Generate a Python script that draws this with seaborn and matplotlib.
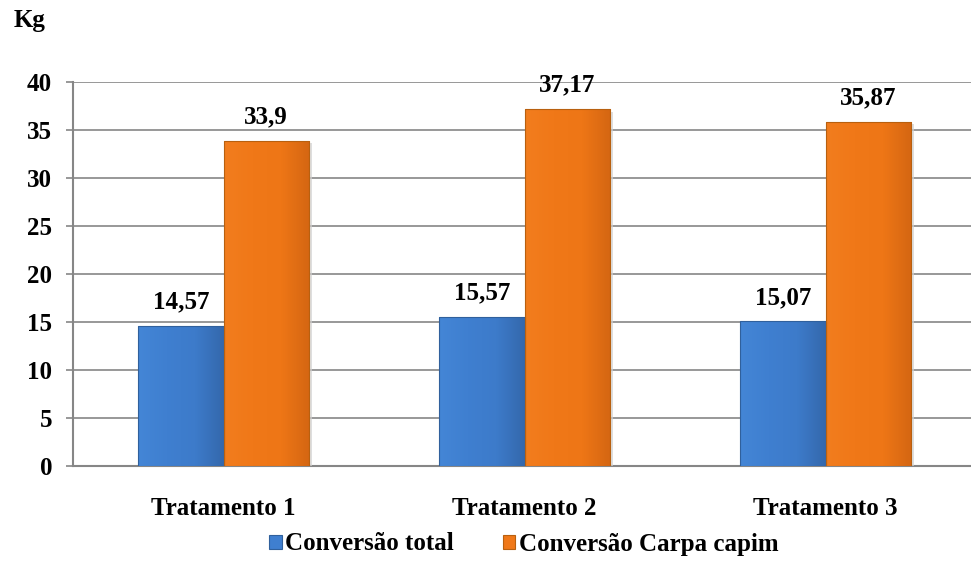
import matplotlib
matplotlib.use("Agg")
import matplotlib.pyplot as plt
import seaborn as sns
import pandas as pd
import numpy as np
from matplotlib.colors import LinearSegmentedColormap
from matplotlib.font_manager import FontProperties
from matplotlib.patches import Patch

categories = ["Tratamento 1", "Tratamento 2", "Tratamento 3"]
series_names = ["Conversão total", "Conversão Carpa capim"]
conv_total = [14.57, 15.57, 15.07]
conv_carpa = [33.9, 37.17, 35.87]
value_labels_total = ["14,57", "15,57", "15,07"]
value_labels_carpa = ["33,9", "37,17", "35,87"]
y_ticks = [0, 5, 10, 15, 20, 25, 30, 35, 40]

df = pd.DataFrame({
    "cat": categories * 2,
    "serie": [series_names[0]] * 3 + [series_names[1]] * 3,
    "val": conv_total + conv_carpa,
})

sns.set_style("white")
FAM = ["Liberation Serif", "DejaVu Serif"]
plt.rcParams["font.family"] = FAM
plt.rcParams["font.weight"] = "bold"
plt.rcParams["text.color"] = "black"
plt.rcParams["xtick.color"] = "black"
plt.rcParams["ytick.color"] = "black"

fig = plt.figure(figsize=(9.71, 5.73), dpi=100)
ax = fig.add_axes([73 / 971, 1 - 466 / 573, 1 - 73 / 971, (466 - 82) / 573])

colors = {"Conversão total": "#3f7fd0", "Conversão Carpa capim": "#f07818"}
sns.barplot(data=df, x="cat", y="val", hue="serie", palette=colors, width=0.566,
            gap=0, ax=ax, legend=False, edgecolor="none", saturation=1, zorder=3)

ax.set_xlim(-0.5, (971 - 73) / 301 - 0.5)
ax.set_ylim(0, 40)
ax.set_yticks(y_ticks)
ax.set_yticklabels([str(t) for t in y_ticks], fontsize=18, fontweight="bold",
                   family=FAM, color="black")
ax.set_xticks(range(3))
ax.set_xticklabels(categories, fontsize=18, fontweight="bold", family=FAM, color="black")
ax.tick_params(axis="x", which="major", length=0, pad=22)
ax.set_xticks([-0.5, 0.5, 1.5], minor=True)
ax.tick_params(axis="x", which="minor", length=4.5, color="#868686", width=1.5)
ax.tick_params(axis="y", length=5, color="#868686", width=1.2, pad=10, left=True)
ax.set_xlabel("")
ax.set_ylabel("")
ax.grid(axis="y", color="#868686", linewidth=1.2, zorder=0)
ax.set_axisbelow(True)
for s in ["top", "right"]:
    ax.spines[s].set_visible(False)
for s in ["left", "bottom"]:
    ax.spines[s].set_color("#868686")
    ax.spines[s].set_linewidth(1.5)

grad = {
    "Conversão total": LinearSegmentedColormap.from_list("b", ["#4486d6", "#3f7fd0", "#3d7bca", "#3468ac"]),
    "Conversão Carpa capim": LinearSegmentedColormap.from_list("o", ["#f27d1e", "#f07818", "#ee7616", "#d46612"]),
}
edgec = {"Conversão total": "#30609c", "Conversão Carpa capim": "#b8600f"}
for cont, name in zip(ax.containers, series_names):
    for patch in cont.patches:
        x0, y0 = patch.get_x(), patch.get_y()
        w, h = patch.get_width(), patch.get_height()
        ax.add_patch(plt.Rectangle((x0 + 0.012, y0), w, h - 0.25, facecolor="#d0d0d0",
                                   edgecolor="none", zorder=2.9, alpha=0.7))
        g = np.linspace(0, 1, 256).reshape(1, -1)
        im = ax.imshow(g, extent=[x0, x0 + w, y0, y0 + h], aspect="auto",
                       cmap=grad[name], zorder=3.5, interpolation="bicubic")
        im.set_clip_path(patch)
        patch.set_edgecolor(edgec[name])
        patch.set_linewidth(0.8)
        patch.set_zorder(4)
        patch.set_facecolor("none")

for cont, labels in zip(ax.containers, [value_labels_total, value_labels_carpa]):
    for patch, lab in zip(cont.patches, labels):
        ax.annotate(lab, (patch.get_x() + patch.get_width() / 2, patch.get_height()),
                    xytext=(0, 9), textcoords="offset points", ha="center", va="bottom",
                    fontsize=18, fontweight="bold", family=FAM, color="black")

ax.set_xlim(-0.5, (971 - 73) / 301 - 0.5)
ax.set_ylim(0, 40)

handles = [Patch(facecolor=colors[n], edgecolor=edgec[n], linewidth=0.8) for n in series_names]
legfont = FontProperties(family=FAM, weight="bold", size=18)
leg = fig.legend(handles=handles, labels=series_names, loc="center",
                 bbox_to_anchor=(524 / 971, 1 - 544 / 573), ncol=2, frameon=False,
                 prop=legfont, handlelength=0.5, handleheight=0.5,
                 handletextpad=0.15, columnspacing=1.95)
for t in leg.get_texts():
    t.set_fontproperties(legfont)
    t.set_color("black")

fig.text(14 / 971, 1 - 20 / 573, "Kg", fontsize=18, fontweight="bold", va="center",
         ha="left", family=FAM, color="black")

fig.savefig("out.png", dpi=100)
